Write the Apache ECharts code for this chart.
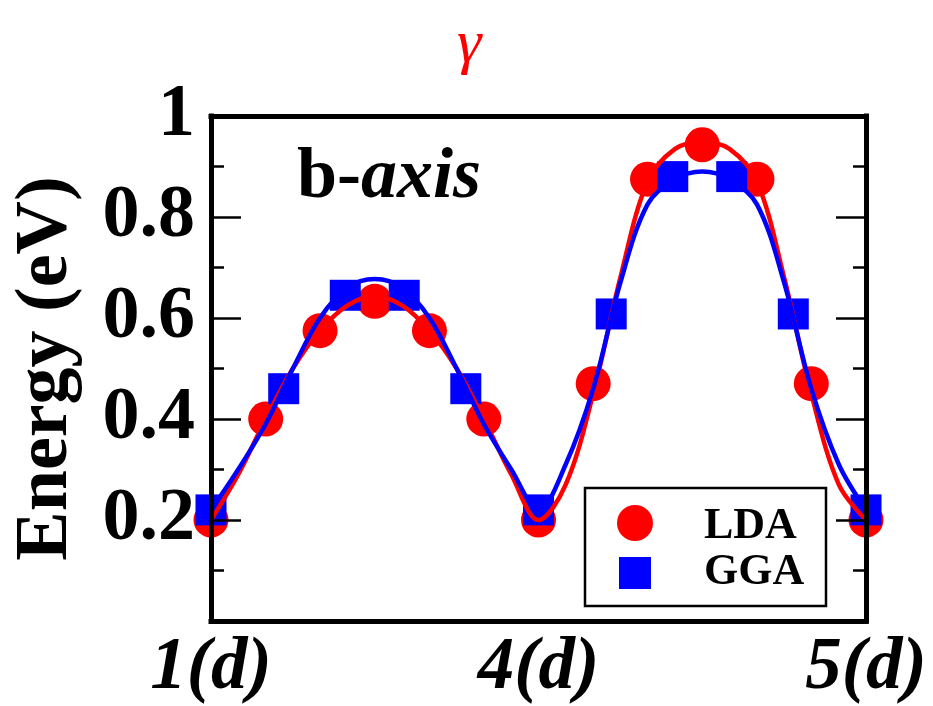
<!DOCTYPE html>
<html>
<head>
<meta charset="utf-8">
<script src="https://cdn.jsdelivr.net/npm/echarts@6/dist/echarts.min.js"></script>
<style>
  html, body { margin: 0; padding: 0; background: #fff; }
  #chart { width: 933px; height: 706px; }
</style>
</head>
<body>
<div id="chart"></div>
<script>
// Path position along the b-axis: 0 = 1(d), 1 = 4(d), 2 = 5(d)
const xTickLabels = ['1(d)', '4(d)', '5(d)'];
const yTickLabels = ['', '0.2', '0.4', '0.6', '0.8', '1'];

// Computed energies (eV)
const ldaPos = [0, 0.167, 0.333, 0.5, 0.667, 0.833, 1, 1.167, 1.333, 1.5, 1.667, 1.833, 2];
const ldaEnergy = [0.20, 0.40, 0.575, 0.633, 0.575, 0.40, 0.20, 0.47, 0.875, 0.943, 0.875, 0.47, 0.20];

const ggaPos = [0, 0.222, 0.41, 0.59, 0.778, 1, 1.222, 1.41, 1.59, 1.778, 2];
const ggaEnergy = [0.22, 0.46, 0.645, 0.645, 0.46, 0.22, 0.608, 0.88, 0.88, 0.608, 0.22];

// Fitted curves
const fitPos = [0, 0.083, 0.167, 0.25, 0.333, 0.417, 0.5, 0.583, 0.667, 0.75, 0.833, 0.917, 1,
                1.083, 1.167, 1.25, 1.333, 1.417, 1.5, 1.583, 1.667, 1.75, 1.833, 1.917, 2];
const ldaFit = [0.20, 0.29, 0.40, 0.50, 0.575, 0.625, 0.643, 0.625, 0.575, 0.50, 0.40, 0.29, 0.20,
                0.27, 0.45, 0.68, 0.87, 0.935, 0.948, 0.935, 0.87, 0.68, 0.45, 0.27, 0.20];
const ggaFit = [0.22, 0.30, 0.39, 0.50, 0.60, 0.66, 0.677, 0.66, 0.60, 0.50, 0.39, 0.30, 0.22,
                0.31, 0.46, 0.67, 0.825, 0.875, 0.89, 0.875, 0.825, 0.67, 0.46, 0.31, 0.22];

const pairs = (xs, ys) => xs.map((x, i) => [x, ys[i]]);

const SERIF = '"Liberation Serif", "Times New Roman", serif';
const RED = '#ff0000';
const BLUE = '#0000ff';

const frameLine = () => ({ show: true, onZero: false, lineStyle: { color: '#000', width: 5, cap: 'square' } });

const chart = echarts.init(document.getElementById('chart'), null, { renderer: 'canvas' });

chart.setOption({
  animation: false,
  backgroundColor: '#fff',
  title: {
    text: 'γ',
    left: 452,
    top: 10,
    textStyle: { fontFamily: SERIF, fontStyle: 'italic', fontWeight: 'normal', fontSize: 62, color: RED }
  },
  grid: { left: 211, right: 67, top: 116, bottom: 85, containLabel: false },
  xAxis: [
    {
      type: 'value', position: 'bottom', min: 0, max: 2, interval: 1, z: 10,
      axisLine: frameLine(),
      axisTick: { show: false },
      splitLine: { show: false },
      axisLabel: {
        margin: 12,
        formatter: v => xTickLabels[Math.round(v)],
        fontFamily: SERIF, fontStyle: 'italic', fontWeight: 'bold', fontSize: 73, color: '#000'
      }
    },
    {
      type: 'value', position: 'top', min: 0, max: 2, interval: 1, z: 10,
      axisLine: frameLine(),
      axisTick: { show: false }, axisLabel: { show: false }, splitLine: { show: false }
    }
  ],
  yAxis: [
    {
      type: 'value', position: 'left', min: 0, max: 1, interval: 0.2, z: 10,
      name: 'Energy (eV)', nameLocation: 'middle', nameRotate: 90, nameGap: 127,
      nameTextStyle: { fontFamily: SERIF, fontWeight: 'bold', fontSize: 74, color: '#000' },
      axisLine: frameLine(),
      axisTick: { show: true, inside: true, length: 30, lineStyle: { color: '#000', width: 2.5 } },
      minorTick: { show: true, splitNumber: 2, length: 13, lineStyle: { color: '#000', width: 2.5 } },
      splitLine: { show: false },
      axisLabel: {
        margin: 16,
        formatter: v => yTickLabels[Math.round(v * 5)],
        fontFamily: SERIF, fontWeight: 'bold', fontSize: 74, color: '#000'
      }
    },
    {
      type: 'value', position: 'right', min: 0, max: 1, interval: 0.2, z: 10,
      axisLine: frameLine(),
      axisTick: { show: true, inside: true, length: 30, lineStyle: { color: '#000', width: 2.5 } },
      minorTick: { show: true, splitNumber: 2, length: 13, lineStyle: { color: '#000', width: 2.5 } },
      splitLine: { show: false },
      axisLabel: { show: false }
    }
  ],
  series: [
    {
      name: 'LDA fit', type: 'line', smooth: 0.35, showSymbol: false, symbol: 'none',
      data: pairs(fitPos, ldaFit),
      lineStyle: { color: RED, width: 4.5 }
    },
    {
      name: 'LDA', type: 'scatter', symbol: 'circle', symbolSize: 35,
      data: pairs(ldaPos, ldaEnergy),
      itemStyle: { color: RED, opacity: 1 }
    },
    {
      name: 'GGA fit', type: 'line', smooth: 0.35, showSymbol: false, symbol: 'none',
      data: pairs(fitPos, ggaFit),
      lineStyle: { color: BLUE, width: 4.5 }
    },
    {
      name: 'GGA', type: 'scatter', symbol: 'rect', symbolSize: 31,
      data: pairs(ggaPos, ggaEnergy),
      itemStyle: { color: BLUE, opacity: 1 }
    }
  ],
  graphic: [
    {
      type: 'text', left: 297, top: 142, z: 20,
      style: {
        text: '{b|b-}{i|axis}',
        rich: {
          b: { fontFamily: SERIF, fontWeight: 'bold', fontSize: 72, fill: '#000' },
          i: { fontFamily: SERIF, fontWeight: 'bold', fontStyle: 'italic', fontSize: 72, fill: '#000' }
        }
      }
    },
    // legend
    {
      type: 'group', z: 30,
      children: [
        { type: 'rect', shape: { x: 585, y: 488, width: 241, height: 118 },
          style: { fill: '#fff', stroke: '#000', lineWidth: 2.5 } },
        { type: 'circle', shape: { cx: 635, cy: 523, r: 18 }, style: { fill: RED } },
        { type: 'rect', shape: { x: 619, y: 557, width: 32, height: 32 }, style: { fill: BLUE } },
        { type: 'text', x: 704, y: 527,
          style: { text: 'LDA', fontFamily: SERIF, fontWeight: 'bold', fontSize: 44, fill: '#000', verticalAlign: 'middle' } },
        { type: 'text', x: 704, y: 573,
          style: { text: 'GGA', fontFamily: SERIF, fontWeight: 'bold', fontSize: 44, fill: '#000', verticalAlign: 'middle' } }
      ]
    }
  ]
});
</script>
</body>
</html>
